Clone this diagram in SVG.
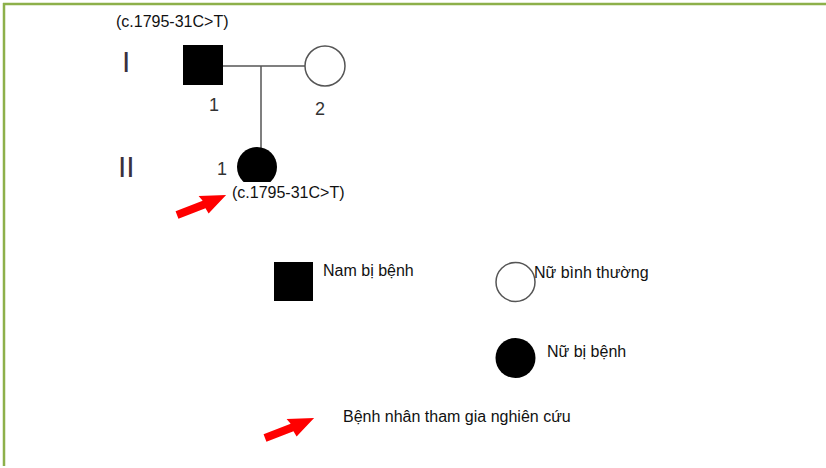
<svg xmlns="http://www.w3.org/2000/svg" width="826" height="468" viewBox="0 0 826 468">
<style>
.t{font-family:"Liberation Sans",Arial,sans-serif;font-size:16px;fill:#111}
.n{font-family:"Liberation Sans",Arial,sans-serif;font-size:18px;fill:#333}
.g{font-family:"Liberation Sans",Arial,sans-serif;font-size:30px;fill:#3a3040}
.ln{stroke:#555;stroke-width:1.5;fill:none}
.aff{fill:#000}
.nor{fill:#fff;stroke:#555;stroke-width:1.5}
.arr{fill:#f00}
</style>
<defs>
<path id="arrow" d="M0,-4 L29,-4 L27,-10 L53,-1 L30,10 L29,4 L0,4 Z"/>
<clipPath id="cut"><rect x="200" y="130" width="100" height="52"/></clipPath>
</defs>
<rect width="826" height="468" fill="#fff"/>
<g id="border" stroke="#8db04a" stroke-width="2.5" fill="none">
<line x1="3" y1="4" x2="826" y2="4"/>
<line x1="4" y1="3" x2="4" y2="466"/>
</g>
<g id="gen-labels">
<text class="g" x="122" y="72">I</text>
<text class="g" x="118" y="177">II</text>
</g>
<g id="connectors">
<line class="ln" x1="223" y1="66" x2="305" y2="66"/>
<line class="ln" x1="261" y1="66" x2="261" y2="148"/>
</g>
<g id="I-1">
<rect class="aff" x="183" y="45" width="40" height="40"/>
<text class="n" x="209" y="111">1</text>
<text class="t" x="116" y="27">(c.1795-31C&gt;T)</text>
</g>
<g id="I-2">
<circle class="nor" cx="325" cy="66" r="20"/>
<text class="n" x="315" y="115">2</text>
</g>
<g id="II-1">
<circle class="aff" cx="257" cy="167" r="20" clip-path="url(#cut)"/>
<text class="n" x="217" y="175">1</text>
<text class="t" x="232" y="198">(c.1795-31C&gt;T)</text>
<use href="#arrow" class="arr" transform="translate(177,215) rotate(-21)"/>
</g>
<g id="legend-male-affected">
<rect class="aff" x="274" y="262" width="39" height="39"/>
<text class="t" x="323" y="276">Nam bị bệnh</text>
</g>
<g id="legend-female-normal">
<circle class="nor" cx="515.5" cy="282" r="19.5"/>
<text class="t" x="534" y="278">Nữ bình thường</text>
</g>
<g id="legend-female-affected">
<circle class="aff" cx="515.5" cy="358" r="20"/>
<text class="t" x="547" y="357">Nữ bị bệnh</text>
</g>
<g id="legend-proband">
<use href="#arrow" class="arr" transform="translate(265,438) rotate(-21)"/>
<text class="t" x="343" y="422">Bệnh nhân tham gia nghiên cứu</text>
</g>
</svg>
